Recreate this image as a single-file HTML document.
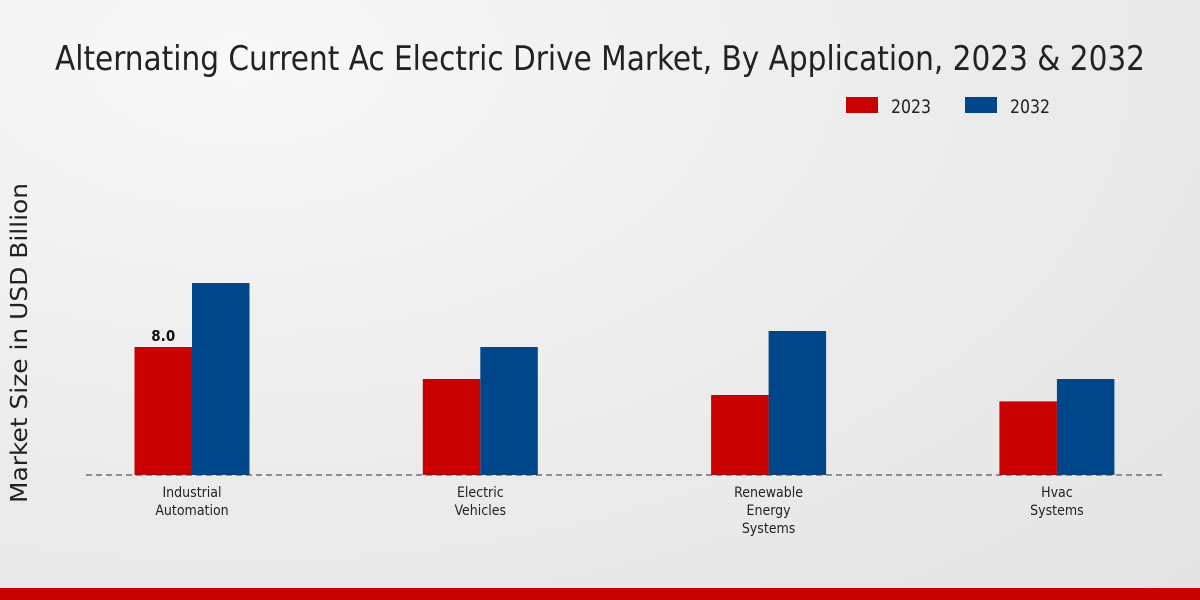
<!DOCTYPE html>
<html><head><meta charset="utf-8"><style>
html,body{margin:0;padding:0;width:1200px;height:600px;overflow:hidden}
body{background:radial-gradient(ellipse at 20% 10%,#f8f8f8 0%,#ececec 50%,#e4e4e4 100%);font-family:"DejaVu Sans Condensed","Liberation Sans",sans-serif}
</style></head><body>
<svg id="chart" width="1200" height="600" xmlns="http://www.w3.org/2000/svg" style="position:absolute;left:0;top:0">
<text x="600" y="70" text-anchor="middle" font-size="34" fill="#222" textLength="1090" lengthAdjust="spacingAndGlyphs" style="font-family:'DejaVu Sans Condensed','Liberation Sans',sans-serif">Alternating Current Ac Electric Drive Market, By Application, 2023 &amp; 2032</text>
<g>
<rect x="846" y="97" width="32" height="16" fill="#c80000"/>
<text x="891" y="113" font-size="19" fill="#222" textLength="40" lengthAdjust="spacingAndGlyphs">2023</text>
<rect x="965" y="97" width="32" height="16" fill="#00468b"/>
<text x="1010" y="113" font-size="19" fill="#222" textLength="40" lengthAdjust="spacingAndGlyphs">2032</text>
</g>
<text transform="translate(27,343) rotate(-90)" text-anchor="middle" font-size="23" fill="#222" textLength="320" lengthAdjust="spacingAndGlyphs" style="font-family:'DejaVu Sans','Liberation Sans',sans-serif">Market Size in USD Billion</text>
<g id="bars"></g>
<line x1="86" y1="475" x2="1165" y2="475" stroke="#333" stroke-width="1" stroke-dasharray="6,4"/>
<rect x="0" y="588" width="1200" height="12" fill="#c80000"/>
</svg>
<script>
const categories=[["Industrial","Automation"],["Electric","Vehicles"],["Renewable","Energy","Systems"],["Hvac","Systems"]];
const values2023=[8.0,6.0,5.0,4.6];
const values2032=[12.0,8.0,9.0,6.0];
const labelShown=["8.0",null,null,null];
const NS="http://www.w3.org/2000/svg";
const g=document.getElementById('bars');
const baseY=475,pxPerUnit=16,x0=192,step=288.3,bw=57.5;
const yScale=v=>baseY-v*pxPerUnit;
const xCenter=i=>x0+i*step;
function mk(t,a){const e=document.createElementNS(NS,t);for(const k in a)e.setAttribute(k,a[k]);return e;}
categories.forEach((c,i)=>{
 const cx=xCenter(i);
 const r1=mk('rect',{x:cx-bw,y:yScale(values2023[i]),width:bw,height:values2023[i]*pxPerUnit,fill:'#c80000'});
 
 
 g.appendChild(r1);
 const r2=mk('rect',{x:cx,y:yScale(values2032[i]),width:bw,height:values2032[i]*pxPerUnit,fill:'#00468b'});
 
 
 g.appendChild(r2);
 if(labelShown[i]){
  const t=mk('text',{x:cx-bw/2,y:yScale(values2023[i])-6,'text-anchor':'middle','font-size':'15','font-weight':'bold',fill:'#111'});
  
  
  t.textContent=labelShown[i];g.appendChild(t);
 }
 c.forEach((line,j)=>{
  const t=mk('text',{x:cx,y:497+j*18,'text-anchor':'middle','font-size':'14',fill:'#222'});
  
  
  t.textContent=line;g.appendChild(t);
 });
});
</script>
</body></html>
